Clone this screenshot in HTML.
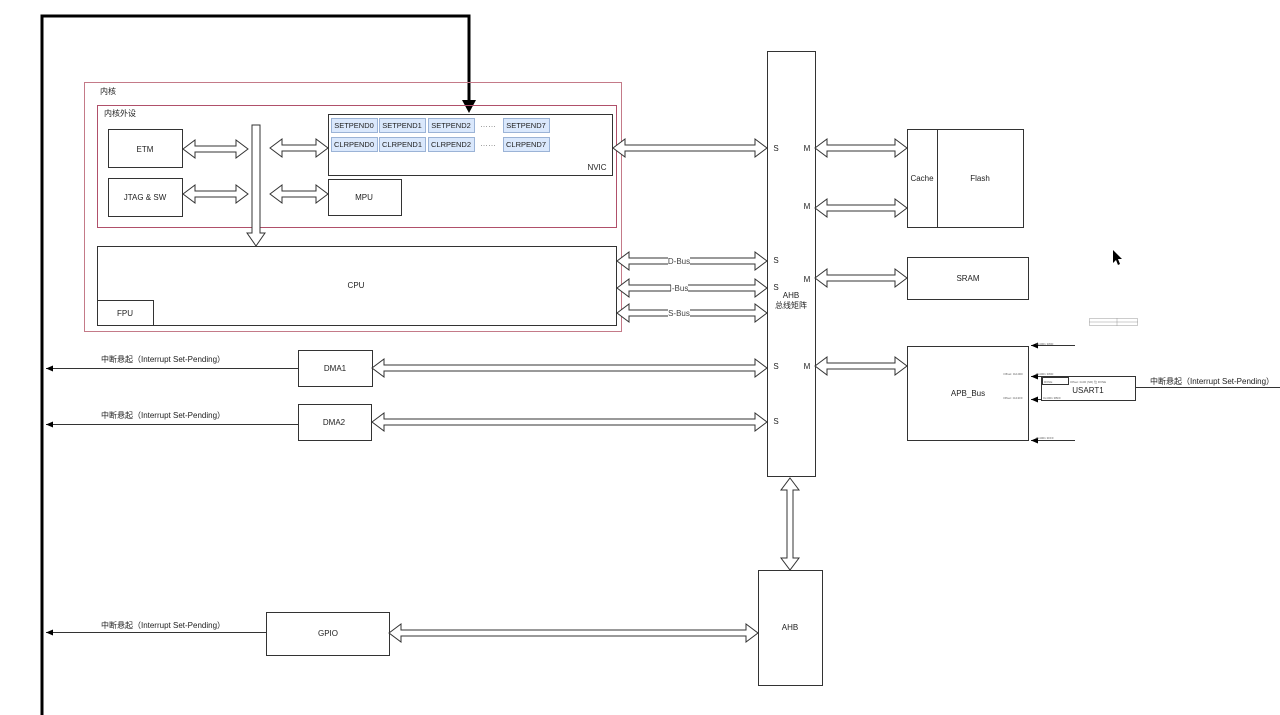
<!DOCTYPE html>
<html><head><meta charset="utf-8"><style>
html,body{margin:0;padding:0;background:#fff;}
svg{display:block;font-family:"Liberation Sans","Noto Sans CJK SC",sans-serif;}
</style></head><body>
<svg width="1280" height="715" viewBox="0 0 1280 715" xmlns="http://www.w3.org/2000/svg">
<defs>
<marker id="ah" markerWidth="8" markerHeight="8" refX="7" refY="4" orient="auto" markerUnits="userSpaceOnUse"><path d="M0,1 L7,4 L0,7 z" fill="#000"/></marker>
</defs>
<rect width="1280" height="715" fill="#fff"/>
<polyline points="42,715 42,16 469,16 469,104" fill="none" stroke="#000" stroke-width="3"/>
<polygon points="462,100 476,100 469,113" fill="#000"/>

<g fill="none" stroke-width="1">
<rect x="84.5" y="82.5" width="537" height="249" stroke="#c47a88"/>
<rect x="97.5" y="105.5" width="519" height="122" stroke="#b0506a"/>
</g>
<g fill="#fff" stroke="#333" stroke-width="1">
<rect x="108.5" y="129.5" width="74" height="38"/>
<rect x="108.5" y="178.5" width="74" height="38"/>
<rect x="328.5" y="114.5" width="284" height="61"/>
<rect x="328.5" y="179.5" width="73" height="36"/>
<rect x="97.5" y="246.5" width="519" height="79"/>
<rect x="97.5" y="300.5" width="56" height="25"/>
<rect x="767.5" y="51.5" width="48" height="425"/>
<rect x="907.5" y="129.5" width="116" height="98"/>
<line x1="937.5" y1="129.5" x2="937.5" y2="227.5"/>
<rect x="907.5" y="257.5" width="121" height="42"/>
<rect x="907.5" y="346.5" width="121" height="94"/>
<rect x="298.5" y="350.5" width="74" height="36"/>
<rect x="298.5" y="404.5" width="73" height="36"/>
<rect x="266.5" y="612.5" width="123" height="43"/>
<rect x="758.5" y="570.5" width="64" height="115"/>
<rect x="1041.5" y="376.5" width="94" height="24"/>
<rect x="1042.5" y="377.5" width="26" height="7"/>
</g>
<g fill="#dae8fc" stroke="#9bb3d6" stroke-width="1">
<rect x="331.5" y="118.5" width="46" height="14"/><rect x="379.5" y="118.5" width="46" height="14"/>
<rect x="428.5" y="118.5" width="46" height="14"/><rect x="503.5" y="118.5" width="46" height="14"/>
<rect x="331.5" y="137.5" width="46" height="14"/><rect x="379.5" y="137.5" width="46" height="14"/>
<rect x="428.5" y="137.5" width="46" height="14"/><rect x="503.5" y="137.5" width="46" height="14"/>
</g>
<g fill="#fff" stroke="#333" stroke-width="1">
<polygon points="183,149 195,140 195,146 236,146 236,140 248,149 236,158 236,152 195,152 195,158"/>
<polygon points="270,148 282,139 282,145 316,145 316,139 328,148 316,157 316,151 282,151 282,157"/>
<polygon points="183,194 195,185 195,191 236,191 236,185 248,194 236,203 236,197 195,197 195,203"/>
<polygon points="270,194 282,185 282,191 316,191 316,185 328,194 316,203 316,197 282,197 282,203"/>
<polygon points="613,148 625,139 625,145 755,145 755,139 767,148 755,157 755,151 625,151 625,157"/>
<polygon points="617,261 629,252 629,258 755,258 755,252 767,261 755,270 755,264 629,264 629,270"/>
<polygon points="617,288 629,279 629,285 755,285 755,279 767,288 755,297 755,291 629,291 629,297"/>
<polygon points="617,313 629,304 629,310 755,310 755,304 767,313 755,322 755,316 629,316 629,322"/>
<polygon points="815,148 827,139 827,145 895,145 895,139 907,148 895,157 895,151 827,151 827,157"/>
<polygon points="815,208 827,199 827,205 895,205 895,199 907,208 895,217 895,211 827,211 827,217"/>
<polygon points="815,278 827,269 827,275 895,275 895,269 907,278 895,287 895,281 827,281 827,287"/>
<polygon points="815,366 827,357 827,363 895,363 895,357 907,366 895,375 895,369 827,369 827,375"/>
<polygon points="372,368 384,359 384,365 755,365 755,359 767,368 755,377 755,371 384,371 384,377"/>
<polygon points="372,422 384,413 384,419 755,419 755,413 767,422 755,431 755,425 384,425 384,431"/>
<polygon points="389,633 401,624 401,630 746,630 746,624 758,633 746,642 746,636 401,636 401,642"/>
<polygon points="790,478 799,490 793,490 793,558 799,558 790,570 781,558 787,558 787,490 781,490"/>
<polygon points="252,125 260,125 260,233 265,233 256,246 247,233 252,233"/>
</g>
<g fill="#fff">
<rect x="668" y="256" width="22" height="9"/>
<rect x="671" y="283" width="17" height="9"/>
<rect x="668" y="308" width="22" height="9"/>
</g>
<g stroke="#333" stroke-width="1" fill="none">
<line x1="298" y1="368.5" x2="46" y2="368.5" marker-end="url(#ah)"/>
<line x1="298" y1="424.5" x2="46" y2="424.5" marker-end="url(#ah)"/>
<line x1="266" y1="632.5" x2="46" y2="632.5" marker-end="url(#ah)"/>
<line x1="1135" y1="387.5" x2="1280" y2="387.5"/>
<line x1="1075" y1="345.5" x2="1031" y2="345.5" marker-end="url(#ah)"/>
<line x1="1041" y1="376.5" x2="1031" y2="376.5" marker-end="url(#ah)"/>
<line x1="1041" y1="399.5" x2="1031" y2="399.5" marker-end="url(#ah)"/>
<line x1="1075" y1="440.5" x2="1031" y2="440.5" marker-end="url(#ah)"/>
</g>
<g stroke="#999" stroke-width="0.5" fill="none">
<rect x="1089.5" y="318.5" width="48" height="7"/><line x1="1117" y1="318" x2="1117" y2="326"/><line x1="1089" y1="322" x2="1138" y2="322"/>
</g>
<g font-size="8" fill="#222" text-anchor="middle">
<text x="100" y="94" text-anchor="start">内核</text>
<text x="104" y="116" text-anchor="start">内核外设</text>
<text x="145" y="152">ETM</text>
<text x="145" y="200">JTAG &amp; SW</text>
<g font-size="7.5">
<text x="354" y="128">SETPEND0</text><text x="402" y="128">SETPEND1</text>
<text x="451" y="128">SETPEND2</text><text x="526" y="128">SETPEND7</text>
<text x="354" y="147">CLRPEND0</text><text x="402" y="147">CLRPEND1</text>
<text x="451" y="147">CLRPEND2</text><text x="526" y="147">CLRPEND7</text>
</g>
<text x="488" y="127" fill="#777">……</text><text x="488" y="146" fill="#777">……</text>
<text x="597" y="170">NVIC</text>
<text x="364" y="200">MPU</text>
<text x="356" y="288">CPU</text>
<text x="125" y="316">FPU</text>
<text x="679" y="264" fill="#444">D-Bus</text>
<text x="679" y="291" fill="#444">I-Bus</text>
<text x="679" y="316" fill="#444">S-Bus</text>
<text x="776" y="151">S</text><text x="776" y="263">S</text><text x="776" y="290">S</text>
<text x="776" y="369">S</text><text x="776" y="424">S</text>
<text x="807" y="151">M</text><text x="807" y="209">M</text><text x="807" y="282">M</text><text x="807" y="369">M</text>
<text x="791" y="298">AHB</text><text x="791" y="308">总线矩阵</text>
<text x="922" y="181">Cache</text>
<text x="980" y="181">Flash</text>
<text x="968" y="281">SRAM</text>
<text x="968" y="396">APB_Bus</text>
<text x="1088" y="393">USART1</text>
<text x="335" y="371">DMA1</text>
<text x="334" y="425">DMA2</text>
<text x="328" y="636">GPIO</text>
<text x="790" y="630">AHB</text>
<text x="163" y="362">中断悬起（Interrupt Set-Pending）</text>
<text x="163" y="418">中断悬起（Interrupt Set-Pending）</text>
<text x="163" y="628">中断悬起（Interrupt Set-Pending）</text>
<text x="1212" y="384">中断悬起（Interrupt Set-Pending）</text>
</g>
<g font-size="3" fill="#666">
<text x="1013" y="375" text-anchor="middle">Offset: 0x1000</text>
<text x="1013" y="399" text-anchor="middle">Offset: 0x13FF</text>
<text x="1036" y="345">0x4001 3800</text>
<text x="1036" y="375">0x4001 3800</text>
<text x="1044" y="383">RXNE</text>
<text x="1070" y="383">Offset: 0x00 (SR) 位 RXNE</text>
<text x="1043" y="399">0x4001 3BFF</text>
<text x="1036" y="439">0x4001 3FFF</text>
</g>
<polygon points="1113,250 1113,263 1116,260 1118,265 1120,264 1118,259 1122,259" fill="#000"/>
</svg>
</body></html>
